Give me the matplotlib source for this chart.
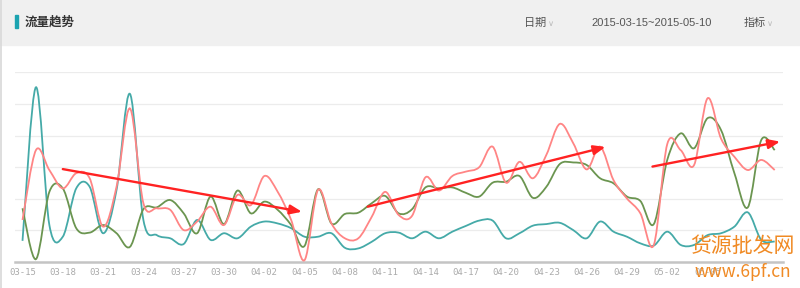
import numpy as np
import matplotlib
matplotlib.use('Agg')
import matplotlib.pyplot as plt
from matplotlib.path import Path
from matplotlib.patches import PathPatch, Rectangle
import datetime as dt

plt.rcParams['font.family'] = ['Noto Sans CJK SC', 'DejaVu Sans']

# data: 2015-03-15 .. 2015-05-10, one value per day (grid step = 100)
start = dt.date(2015, 3, 15)
days = [start + dt.timedelta(days=k) for k in range(57)]
date_labels = [d.strftime('%m-%d') for d in days]

teal = [67, 553, 117, 80, 233, 238, 91, 228, 532, 133, 85, 75, 57, 133, 70,
        91, 75, 112, 128, 122, 107, 80, 80, 91, 45, 43, 64, 91, 93,
        75, 96, 75, 96, 114, 131, 131, 75, 91, 115, 120, 124, 101, 75,
        128, 96, 80, 59, 52, 96, 54, 54, 85, 91, 112, 157, 70, 65]
pink = [133, 354, 291, 233, 281, 265, 112, 238, 486, 186, 170, 165, 101, 128, 175,
        117, 212, 180, 272, 222, 133, 6, 228, 122, 75, 75, 143, 222, 149,
        146, 268, 226, 272, 286, 300, 365, 251, 317, 265, 339, 437, 376, 293,
        365, 259, 201, 154, 54, 373, 354, 307, 518, 391, 333, 291, 323, 291]
green = [170, 9, 222, 233, 107, 93, 117, 91, 48, 167, 173, 196, 154, 91, 207,
         120, 226, 154, 191, 165, 117, 51, 230, 122, 152, 156, 186, 209, 154,
         167, 236, 233, 236, 219, 207, 251, 254, 272, 203, 238, 310, 315, 307,
         265, 249, 207, 193, 120, 323, 407, 360, 455, 418, 281, 173, 386, 354]

# trend arrows drawn on the screenshot: (day index, value) start -> end
arrow_from = [(3.0, 294), (25.7, 175), (46.9, 302)]
arrow_to = [(20.8, 159), (43.4, 364), (56.4, 381)]

header_title = '流量趋势'
date_range = '2015-03-15~2015-05-10'


def smooth_path(xs, ys, t=1/6.):
    pts = np.column_stack([xs, ys]).astype(float)
    n = len(pts)
    verts = [pts[0]]
    codes = [Path.MOVETO]
    for i in range(n - 1):
        p0 = pts[max(i - 1, 0)]
        p1 = pts[i]
        p2 = pts[i + 1]
        p3 = pts[min(i + 2, n - 1)]
        c1 = p1 + (p2 - p0) * t
        c2 = p2 - (p3 - p1) * t
        verts += [c1, c2, p2]
        codes += [Path.CURVE4] * 3
    return Path(verts, codes)


fig = plt.figure(figsize=(8, 2.88), dpi=100)
W, H = 800, 288

# header band
fig.patches.append(Rectangle((0, 1 - 45 / H), 1, 45 / H, transform=fig.transFigure,
                             color='#f0f0f0', zorder=0))
fig.patches.append(Rectangle((15 / W, 1 - 28 / H), 2.5 / W, 13 / H, transform=fig.transFigure,
                             color='#1ba3b0', zorder=1))
fig.text(25 / W, 1 - 22 / H, header_title, fontsize=9, fontweight='bold',
         color='#333333', va='center', ha='left')
fig.text(524 / W, 1 - 23 / H, '日期', fontsize=8, color='#555555', va='center')
fig.text(548 / W, 1 - 23 / H, '∨', fontsize=6, color='#bbbbbb', va='center',
         family=['DejaVu Sans'])
fig.text(591 / W, 1 - 23 / H, date_range, fontsize=8, color='#555555', va='center',
         family=['Liberation Sans'])
fig.text(744 / W, 1 - 23 / H, '指标', fontsize=8, color='#555555', va='center')
fig.text(767 / W, 1 - 23 / H, '∨', fontsize=6, color='#bbbbbb', va='center',
         family=['DejaVu Sans'])
# page border
fig.add_artist(plt.Line2D([0.5 / W, 0.5 / W], [0, 1], transform=fig.transFigure,
                          color='#d8d8d8', lw=1.2))

x0, x1 = 15, 783
y_base, y_top = 262, 72.4
ax = fig.add_axes([x0 / W, 1 - y_base / H, (x1 - x0) / W, (y_base - y_top) / H])
step = 13.43
ax.set_xlim(-(22.5 - x0) / step, 56 + (x1 - 774.7) / step)
ax.set_ylim(0, 600)
for s in ['top', 'right', 'left']:
    ax.spines[s].set_visible(False)
ax.spines['bottom'].set_color('#c4c4c4')
ax.spines['bottom'].set_linewidth(1.8)
ax.set_yticks([100, 200, 300, 400, 500, 600])
ax.yaxis.grid(True, color='#ececec', lw=0.9)
ax.set_axisbelow(True)
ax.tick_params(axis='y', left=False, labelleft=False)
idx = np.arange(len(days))
# the last tick (05-08) is hidden under the site watermark in the screenshot
ticks = idx[:52:3]
ax.set_xticks(ticks)
ax.set_xticklabels([date_labels[k] for k in ticks], fontsize=6.5, color='#aaaaaa',
                   family=['DejaVu Sans Mono'])
ax.tick_params(axis='x', length=0, pad=4)

for vals, col in [(teal, '#45aaa8'), (green, '#6b9550'), (pink, '#ff8585')]:
    ax.add_patch(PathPatch(smooth_path(idx, vals), fill=False, edgecolor=col,
                           lw=1.3, clip_on=False, zorder=3))

for (sx, sy), (ex, ey) in zip(arrow_from, arrow_to):
    ax.annotate('', xy=(ex, ey), xytext=(sx, sy),
                arrowprops=dict(arrowstyle='-|>,head_length=0.7,head_width=0.28',
                                color='#ff2222', lw=1.7, shrinkA=0, shrinkB=0),
                zorder=5, annotation_clip=False)

# site watermark
fig.text(742 / W, 1 - 246 / H, '货源批发网', fontsize=15, color='#f08a24',
         ha='center', va='center', zorder=10)
fig.text(743 / W, 1 - 272 / H, 'www.6pf.cn', fontsize=12.5, color='#f08a24',
         ha='center', va='center', style='italic', zorder=10)

fig.savefig('out.png', dpi=100)
